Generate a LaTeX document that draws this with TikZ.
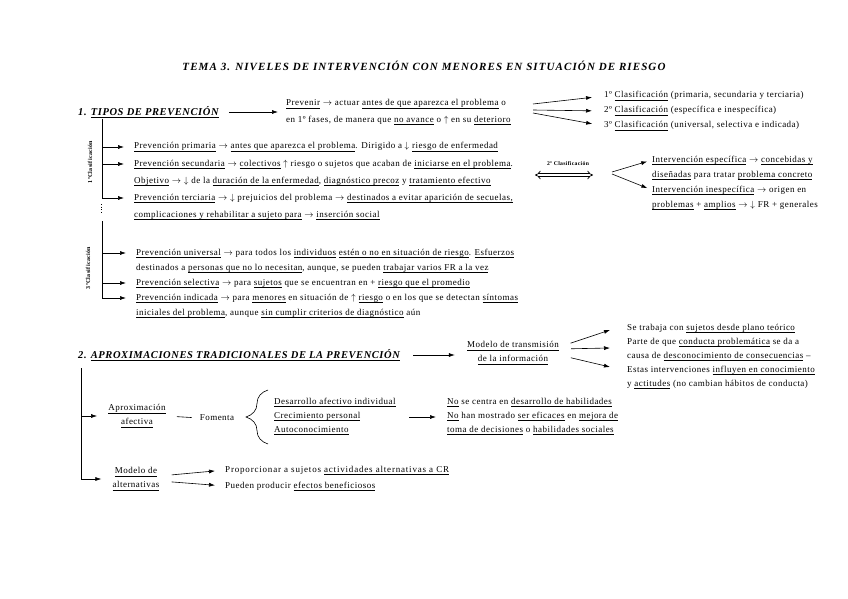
\documentclass[tikz,border=0pt]{standalone}
\usepackage{fontspec}
\setmainfont{Liberation Serif}[LetterSpace=5.5]
\usepackage{tikz}
\usetikzlibrary{arrows.meta,positioning,decorations.pathreplacing}
\newsavebox{\ubox}
\newcommand{\und}[1]{\sbox\ubox{#1}\rlap{\usebox\ubox}\rule[-2.4pt]{\wd\ubox}{0.5pt}}
\tikzset{
  linea/.style={inner sep=0pt,anchor=west,text height=6.5pt,text depth=2.5pt},
  bloque/.style={inner sep=0pt,align=center,font=\fontsize{9}{14}\selectfont},
  cab/.style={inner sep=0pt,anchor=west,font=\fontsize{10.5}{12}\selectfont\bfseries\itshape},
  clasif/.style={inner sep=0pt,rotate=90,font=\fontsize{6}{7}\selectfont\bfseries},
  flecha/.style={-{Latex[length=6pt,width=4pt]},line width=0.6pt},
  doble/.style={{Implies}-{Implies},double,double distance=2.2pt,line width=0.7pt}
}

\begin{document}
\begin{tikzpicture}[x=1pt,y=1pt,font=\fontsize{9}{11}\selectfont]
  \useasboundingbox (0,0) rectangle (848,-599);

  \node[inner sep=0pt,font=\fontsize{11}{13}\selectfont\bfseries\itshape\addfontfeature{LetterSpace=10}] (tit) at (424,-66)
    {TEMA 3. NIVELES DE INTERVENCIÓN CON MENORES EN SITUACIÓN DE RIESGO};

  % 1. tipos de prevencion
  \node[cab] (s1) at (78,-112) {1. \und{TIPOS DE PREVENCIÓN}};
  \node[linea] (prev1) at (286,-104)
    {\und{Prevenir} $\rightarrow$ actuar \und{antes de que aparezca el problema} o};
  \node[linea,below=16pt of prev1.west,anchor=west] (prev2)
    {en 1º fases, de manera que \und{no avance} o $\uparrow$ en su \und{deterioro}};
  \draw[flecha,shorten <=10pt,shorten >=8pt] (s1.east) -- (s1.east -| prev1.west);

  \node[linea] (cl1) at (604,-96) {1º \und{Clasificación} (primaria, secundaria y terciaria)};
  \node[linea,below=15pt of cl1.west,anchor=west] (cl2) {2º \und{Clasificación} (específica e inespecífica)};
  \node[linea,below=15pt of cl2.west,anchor=west] (cl3) {3º \und{Clasificación} (universal, selectiva e indicada)};
  \coordinate (r1) at (533,-110);
  \draw[flecha,shorten >=12pt] ([yshift=6pt]r1) -- (cl1.west);
  \draw[flecha,shorten >=12pt] (r1) -- (cl2.west);
  \draw[flecha,shorten >=12pt] ([yshift=-3pt]r1) -- (cl3.west);

  % 1a clasificacion
  \node[linea] (pp) at (134,-147)
    {\und{Prevención primaria} $\rightarrow$ \und{antes que aparezca el problema}. Dirigido a $\downarrow$ \und{riesgo de enfermedad}};
  \node[linea,below=17pt of pp.west,anchor=west] (ps)
    {\und{Prevención secundaria} $\rightarrow$ \und{colectivos} $\uparrow$ riesgo o sujetos que acaban de \und{iniciarse en el problema}.};
  \node[linea,below=17pt of ps.west,anchor=west] (pobj)
    {\und{Objetivo} $\rightarrow$ $\downarrow$ de la \und{duración de la enfermedad}, \und{diagnóstico precoz} y \und{tratamiento efectivo}};
  \node[linea,below=17pt of pobj.west,anchor=west] (pt)
    {\und{Prevención terciaria} $\rightarrow$ $\downarrow$ prejuicios del problema $\rightarrow$ \und{destinados a evitar aparición de secuelas,}};
  \node[linea,below=17pt of pt.west,anchor=west] (pt2)
    {\und{complicaciones y rehabilitar a sujeto para} $\rightarrow$ \und{inserción social}};
  \coordinate (v1) at (102,-119);
  \foreach \n in {pp,ps,pt}
    \draw[flecha,shorten >=10pt] (v1) |- (\n.west);
  \node[clasif] (c1) at (90,-162) {1ºClasificación};
  \draw[dotted,line width=0.6pt] (101,-204) -- (101,-214);

  % 3a clasificacion
  \node[linea] (pu) at (136,-253)
    {\und{Prevención universal} $\rightarrow$ para todos los \und{individuos} \und{estén o no en situación de riesgo}. \und{Esfuerzos}};
  \node[linea,below=15pt of pu.west,anchor=west] (pu2)
    {destinados a \und{personas que no lo necesitan}, aunque, se pueden \und{trabajar varios FR a la vez}};
  \node[linea,below=15pt of pu2.west,anchor=west] (psel)
    {\und{Prevención selectiva} $\rightarrow$ para \und{sujetos} que se encuentran en + \und{riesgo que el promedio}};
  \node[linea,below=15pt of psel.west,anchor=west] (pind)
    {\und{Prevención indicada} $\rightarrow$ para \und{menores} en situación de $\uparrow$ \und{riesgo} o en los que se detectan \und{síntomas}};
  \node[linea,below=15pt of pind.west,anchor=west] (pind2)
    {\und{iniciales del problema}, aunque \und{sin cumplir criterios de diagnóstico} aún};
  \coordinate (v3) at (102,-221);
  \foreach \n in {pu,psel,pind}
    \draw[flecha,shorten >=10pt] (v3) |- (\n.west);
  \node[clasif] (c3) at (88,-268) {3ºClasificación};

  % 2a clasificacion
  \node[inner sep=0pt,font=\fontsize{5.7}{6}\selectfont\bfseries] (c2) at (568,-164) {2º Clasificación};
  \coordinate (d1) at (535,-175);
  \coordinate (d2) at (593,-175);
  \draw[doble] (d1) -- (d2);
  \node[linea] (ie1) at (652,-160) {\und{Intervención específica} $\rightarrow$ \und{concebidas y}};
  \node[linea,below=15pt of ie1.west,anchor=west] (ie2) {\und{diseñadas} para tratar \und{problema concreto}};
  \node[linea,below=15pt of ie2.west,anchor=west] (ii1) {\und{Intervención inespecífica} $\rightarrow$ origen en};
  \node[linea,below=15pt of ii1.west,anchor=west] (ii2)
    {\und{problemas} + \und{amplios} $\rightarrow$ $\downarrow$ FR + generales};
  \coordinate (r2) at (612,-174);
  \draw[flecha,shorten >=5pt] ([yshift=2pt]r2) -- (ie1.west);
  \draw[flecha,shorten >=5pt] (r2) -- (ii1.west);

  % 2. aproximaciones
  \node[cab] (s2) at (78,-355) {2. \und{APROXIMACIONES TRADICIONALES DE LA PREVENCIÓN}};
  \node[bloque] (mt) at (513,-353) {\und{Modelo de transmisión}\\\und{de la información}};
  \draw[flecha,shorten <=13pt,shorten >=12pt] (s2.east) -- (s2.east -| mt.west);

  \node[linea] (tb1) at (627,-328) {Se trabaja con \und{sujetos desde plano teórico}};
  \node[linea,below=14pt of tb1.west,anchor=west] (tb2) {Parte de que \und{conducta problemática} se da a};
  \node[linea,below=14pt of tb2.west,anchor=west] (tb3) {causa de \und{desconocimiento de consecuencias} –};
  \node[linea,below=14pt of tb3.west,anchor=west] (tb4) {Estas intervenciones \und{influyen en conocimiento}};
  \node[linea,below=14pt of tb4.west,anchor=west] (tb5) {y \und{actitudes} (no cambian hábitos de conducta)};
  \coordinate (t1) at (610,-330);
  \coordinate (t2) at (610,-348);
  \coordinate (t3) at (610,-367);
  \draw[flecha,shorten <=12pt] ([yshift=6pt]mt.east) -- (t1);
  \draw[flecha,shorten <=12pt] ([yshift=4pt]mt.east) -- (t2);
  \draw[flecha,shorten <=12pt] ([yshift=-2pt]mt.east) -- (t3);

  \coordinate (v2) at (81,-368);
  \node[bloque] (aprox) at (137,-416) {\und{Aproximación}\\\und{afectiva}};
  \node[bloque] (malt) at (136,-479) {\und{Modelo de}\\\und{alternativas}};
  \foreach \n in {aprox,malt}
    \draw[flecha,shorten >=11pt] (v2) |- (\n.west);

  \node[inner sep=0pt] (fom) at (217,-418) {Fomenta};
  \draw[line width=0.6pt,shorten <=11pt,shorten >=8pt] (aprox.east) -- (fom.west);
  \draw[line width=0.6pt,decorate,decoration={brace,amplitude=22pt,aspect=0.5}] (268,-444) -- (268,-390);
  \node[linea] (da1) at (274,-402) {\und{Desarrollo afectivo individual}};
  \node[linea,below=14pt of da1.west,anchor=west] (da2) {\und{Crecimiento personal}};
  \node[linea,below=14pt of da2.west,anchor=west] (da3) {\und{Autoconocimiento}};

  \node[linea] (hb1) at (447,-402) {\und{No} se centra en \und{desarrollo de habilidades}};
  \node[linea,below=14pt of hb1.west,anchor=west] (hb2) {\und{No} han mostrado \und{ser eficaces} en \und{mejora de}};
  \node[linea,below=14pt of hb2.west,anchor=west] (hb3) {\und{toma de decisiones} o \und{habilidades sociales}};
  \coordinate (r3) at (409,-417);
  \draw[flecha] (r3) -- ++(27,0) coordinate (r3b);

  \node[linea,font=\fontsize{9}{11}\selectfont\addfontfeature{LetterSpace=9}] (alt1) at (225,-470) {Proporcionar a sujetos \und{actividades alternativas a CR}};
  \node[linea,below=16pt of alt1.west,anchor=west] (alt2) {Pueden producir \und{efectos beneficiosos}};
  \draw[flecha,shorten <=12pt,shorten >=10pt] ([yshift=3pt]malt.east) -- (alt1.west);
  \draw[flecha,shorten <=12pt,shorten >=10pt] ([yshift=-2pt]malt.east) -- (alt2.west);
\end{tikzpicture}
\end{document}
